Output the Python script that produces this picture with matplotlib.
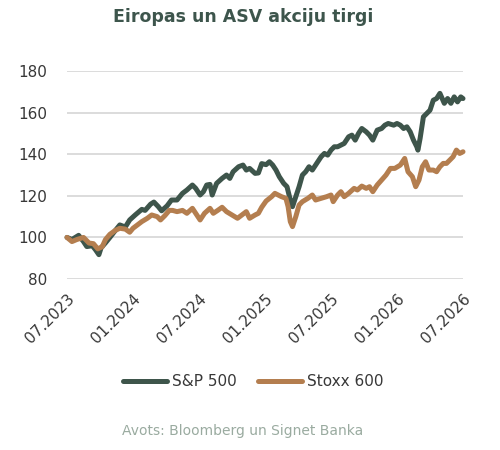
import matplotlib
matplotlib.use('Agg')
import matplotlib.pyplot as plt
import numpy as np

# -----------------------------------------
# ----------- DATA ------------------------
# -----------------------------------------

# x = months since 07.2023
SP_MONTHS = [0, 0.45, 1.06, 1.5, 1.8, 2.3, 2.6, 2.9, 3.1, 3.5, 3.9, 4.4, 4.8, 5.3, 5.7,
             6.2, 6.8, 7.1, 7.6, 7.9, 8.3, 8.6, 9.1, 9.5, 10, 10.5, 10.9, 11.4, 11.7,
             12.1, 12.4, 12.7, 13.0, 13.2, 13.6, 14.1, 14.5, 14.8, 15.1, 15.6, 16.0,
             16.3, 16.6, 17.1, 17.4, 17.7, 18.1, 18.4, 18.7, 19.0, 19.3, 19.7, 20.0,
             20.3, 20.5, 20.8, 21.1, 21.4, 21.7, 22.0, 22.3, 22.6, 23.1, 23.4, 23.7,
             24.0, 24.3, 24.6, 24.9, 25.2, 25.6, 25.9, 26.2, 26.5, 26.8, 27.2, 27.5,
             27.8, 28.2, 28.6, 28.9, 29.2, 29.7, 30.0, 30.3, 30.6, 30.9, 31.2, 31.5,
             31.8, 31.9, 32.1, 32.4, 32.7, 33.0, 33.3, 33.6, 33.9, 34.3, 34.6, 34.9,
             35.2, 35.5, 35.8, 36]
SP_VALUES = [100, 99, 101, 98, 95.6, 96, 94, 91.7, 95, 97.4, 100, 103.4, 106, 105, 108.4,
             110.8, 113.5, 113, 116, 117, 114.8, 112.8, 115.2, 118, 118, 121.2, 122.8, 125.2, 123.6,
             120.4, 122, 125.2, 125.5, 120.4, 126, 128.4, 130, 128.4, 131.6, 134, 134.8,
             132.4, 133.2, 130.8, 131, 135.5, 135, 136.4, 134.8, 132.4, 129.2, 126, 124.4,
             118, 114.8, 119.6, 124.4, 130, 131.6, 134, 132.4, 134.8, 138.8, 140.4, 139.6,
             142, 143.6, 143.6, 144.4, 145.2, 148.4, 149.2, 146.8, 150, 152.4, 150.8, 149.2,
             146.8, 151.6, 152.4, 154, 154.8, 154, 154.8, 154, 152.4, 153.2, 150.8, 146.8,
             143.6, 142, 147.6, 158, 159.6, 161.2, 166, 166.8, 169.3, 164.5, 166.8, 164.5,
             167.6, 165.2, 167.6, 166.8]

STOXX_MONTHS = [0, 0.45, 0.9, 1.5, 2.0, 2.4, 2.8, 3.2, 3.5, 3.9, 4.4, 4.8, 5.3, 5.7, 6.0,
                6.4, 6.8, 7.3, 7.7, 8.2, 8.5, 8.9, 9.3, 9.6, 10.0, 10.5, 10.9, 11.4, 11.8,
                12.1, 12.5, 13.0, 13.3, 13.7, 14.1, 14.5, 15.0, 15.5, 15.9, 16.3, 16.6,
                17.1, 17.4, 17.7, 18.1, 18.6, 18.9, 19.2, 19.5, 19.9, 20.1, 20.3, 20.5,
                20.8, 21.1, 21.4, 21.9, 22.3, 22.6, 23.1, 23.6, 24.0, 24.2, 24.6, 24.9,
                25.2, 25.6, 26.1, 26.4, 26.8, 27.2, 27.5, 27.8, 28.2, 28.6, 29.0, 29.4,
                29.8, 30.3, 30.6, 30.7, 31.0, 31.4, 31.7, 32.0, 32.3, 32.6, 32.9, 33.3,
                33.6, 33.9, 34.2, 34.5, 34.8, 35.1, 35.4, 35.7, 36]
STOXX_VALUES = [100, 98, 99, 100, 97.3, 97, 94.5, 95.5, 99, 101.5, 103.4, 104.4, 104, 102.5, 104.4,
                106, 107.6, 109.2, 110.8, 110, 108.4, 110.5, 113, 113, 112.4, 113, 111.6, 114, 110.8,
                108.4, 111.6, 114, 111.6, 113, 114.5, 112.4, 110.8, 109.2, 110.8, 112.4, 109.2,
                110.8, 111.6, 114.5, 117.5, 119.6, 121.2, 120.4, 119.6, 118.8, 114.8, 107.6, 105.2,
                110, 115.6, 117.2, 118.8, 120.4, 118, 118.8, 119.6, 120.4, 117.2, 120.4, 122,
                119.6, 121.2, 123.6, 122.8, 124.7, 123.6, 124.4, 122, 125.2, 127.6, 130, 133.2,
                133.2, 134.8, 137.2, 138, 131.6, 129.2, 124.4, 127.6, 134, 136.4, 132.4, 132.4,
                131.6, 134, 135.6, 135.6, 137.2, 138.8, 142, 140.4, 141.2]

TICK_MONTHS = [0, 6, 12, 18, 24, 30, 36]
TICK_LABELS = ['07.2023', '01.2024', '07.2024', '01.2025', '07.2025', '01.2026', '07.2026']
Y_TICKS = [80, 100, 120, 140, 160, 180]

TITLE = 'Eiropas un ASV akciju tirgi'
SOURCE = 'Avots: Bloomberg un Signet Banka'

SP_COLOR = '#3e554b'
STOXX_COLOR = '#b47e4f'
GRID_COLOR = '#d9d9d9'
TEXT_COLOR = '#383838'
TITLE_COLOR = '#3d554c'
SOURCE_COLOR = '#9aaba0'

plt.rcParams['font.family'] = ['DejaVu Sans']

# -----------------------------------------
# -------------- PLOT ---------------------
# -----------------------------------------

fig = plt.figure(figsize=(5, 4.5), dpi=100)
ax = fig.add_axes([0.134, 0.38, 0.792, 0.462])

ax.plot(SP_MONTHS, SP_VALUES, color=SP_COLOR, lw=3.6, solid_joinstyle='round',
        solid_capstyle='round', label='S&P 500', zorder=3, clip_on=False)
ax.plot(STOXX_MONTHS, STOXX_VALUES, color=STOXX_COLOR, lw=3.6, solid_joinstyle='round',
        solid_capstyle='round', label='Stoxx 600', zorder=3, clip_on=False)

ax.set_xlim(0, 36)
ax.set_ylim(80, 180)
ax.set_yticks(Y_TICKS)
ax.set_xticks(TICK_MONTHS)
ax.set_xticklabels(TICK_LABELS, rotation=45, ha='right', va='top', rotation_mode='anchor')

ax.grid(axis='y', color=GRID_COLOR, lw=1.3)
ax.set_axisbelow(True)
for s in ax.spines.values():
    s.set_visible(False)
ax.tick_params(axis='both', length=0, labelsize=11, colors=TEXT_COLOR)
ax.tick_params(axis='y', pad=14)
ax.tick_params(axis='x', pad=9)

fig.text(0.486, 0.962, TITLE, ha='center', va='center', fontsize=12.5,
         fontweight='bold', color=TITLE_COLOR)

leg = fig.legend(loc='center', bbox_to_anchor=(0.506, 0.152), ncol=2, frameon=False,
                 fontsize=11, handlelength=2.9, handletextpad=0.3, columnspacing=1.4)
for line in leg.get_lines():
    line.set_linewidth(3.6)
    line.set_solid_capstyle('round')
for t in leg.get_texts():
    t.set_color(TEXT_COLOR)

fig.text(0.486, 0.043, SOURCE, ha='center', va='center', fontsize=10, color=SOURCE_COLOR)

plt.savefig('out.png', dpi=100)
plt.close()
